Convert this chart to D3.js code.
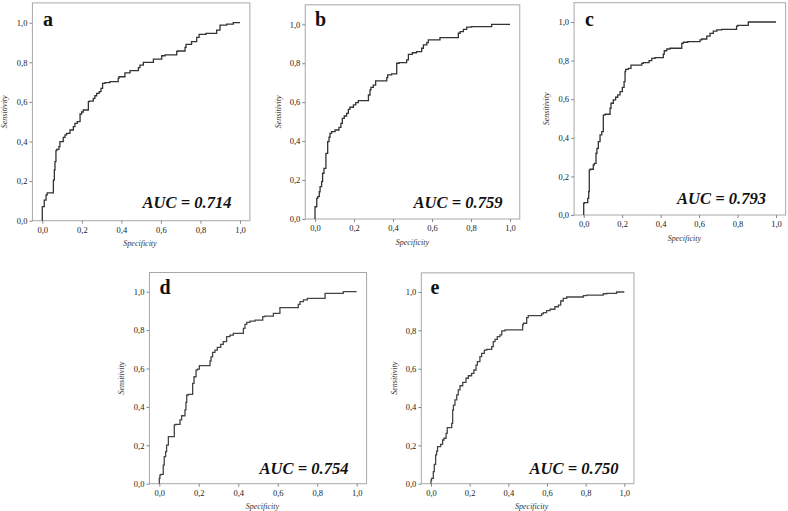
<!DOCTYPE html>
<html><head><meta charset="utf-8">
<script src="https://cdn.jsdelivr.net/npm/d3@7"></script>
<style>
html,body{margin:0;padding:0;background:#fff;}
svg{display:block;}
</style></head>
<body>
<svg id="chart" width="788" height="511"></svg>
<script>
const tickValues = [0, 0.2, 0.4, 0.6, 0.8, 1.0];
const tickLabels = ["0,0", "0,2", "0,4", "0,6", "0,8", "1,0"];
const panelLetters = ["a", "b", "c", "d", "e"];
const aucLabels = ["AUC = 0.714", "AUC = 0.759", "AUC = 0.793", "AUC = 0.754", "AUC = 0.750"];
const xTitle = "Specificity";
const yTitle = "Sensitivity";

const specA = [0,0,0.010,0.019,0.025,0.030,0.056,0.061,0.064,0.069,0.073,0.084,0.089,0.106,0.115,0.123,0.140,0.157,0.165,0.177,0.191,0.199,0.207,0.221,0.233,0.238,0.258,0.266,0.275,0.288,0.297,0.305,0.317,0.342,0.384,0.388,0.418,0.444,0.486,0.494,0.511,0.562,0.604,0.621,0.680,0.683,0.722,0.727,0.755,0.781,0.793,0.828,0.882,0.899,0.933,0.966,0.983,1.0];
const sensA = [0,0.040,0.071,0.104,0.130,0.141,0.141,0.205,0.256,0.298,0.354,0.360,0.374,0.399,0.421,0.433,0.441,0.458,0.475,0.492,0.500,0.539,0.549,0.559,0.559,0.601,0.604,0.618,0.631,0.643,0.652,0.668,0.694,0.697,0.702,0.719,0.727,0.747,0.758,0.773,0.786,0.800,0.816,0.833,0.837,0.854,0.857,0.875,0.891,0.904,0.926,0.941,0.946,0.963,0.988,0.993,1.0,1.0];

const specB = [0,0,0.009,0.014,0.022,0.026,0.034,0.039,0.046,0.056,0.065,0.072,0.077,0.085,0.103,0.123,0.133,0.140,0.150,0.162,0.171,0.179,0.197,0.209,0.222,0.236,0.274,0.282,0.287,0.299,0.311,0.321,0.368,0.373,0.393,0.419,0.431,0.470,0.479,0.499,0.521,0.547,0.556,0.573,0.581,0.602,0.641,0.650,0.735,0.744,0.761,0.778,0.803,0.821,0.906,0.909,1.0];
const sensB = [0,0.055,0.063,0.106,0.115,0.140,0.166,0.192,0.235,0.260,0.337,0.397,0.420,0.440,0.449,0.457,0.471,0.491,0.517,0.529,0.543,0.563,0.574,0.586,0.598,0.608,0.608,0.637,0.663,0.676,0.688,0.709,0.709,0.726,0.740,0.745,0.800,0.803,0.817,0.846,0.854,0.860,0.877,0.894,0.906,0.920,0.920,0.932,0.932,0.954,0.962,0.974,0.985,0.988,0.988,1.0,1.0];

const specC = [0,0,0.003,0.021,0.026,0.029,0.033,0.050,0.055,0.064,0.069,0.076,0.085,0.094,0.102,0.111,0.137,0.142,0.154,0.166,0.177,0.189,0.201,0.210,0.215,0.218,0.232,0.246,0.258,0.302,0.310,0.340,0.354,0.371,0.414,0.419,0.432,0.449,0.510,0.518,0.541,0.605,0.614,0.640,0.657,0.674,0.692,0.718,0.795,0.801,0.856,0.860,1.0];
const sensC = [0,0.040,0.060,0.064,0.086,0.121,0.233,0.237,0.259,0.268,0.320,0.345,0.380,0.415,0.432,0.518,0.522,0.553,0.579,0.596,0.610,0.622,0.639,0.661,0.691,0.743,0.755,0.760,0.777,0.777,0.786,0.789,0.800,0.812,0.815,0.834,0.851,0.860,0.864,0.889,0.895,0.898,0.907,0.912,0.927,0.941,0.953,0.959,0.962,0.979,0.983,1.0,1.0];

const specD = [0,0.003,0.008,0.020,0.025,0.032,0.037,0.046,0.054,0.076,0.083,0.105,0.113,0.118,0.130,0.135,0.139,0.147,0.169,0.176,0.186,0.193,0.203,0.211,0.257,0.262,0.270,0.282,0.294,0.311,0.324,0.341,0.358,0.375,0.392,0.426,0.434,0.443,0.459,0.485,0.524,0.535,0.578,0.586,0.611,0.620,0.704,0.713,0.730,0.750,0.764,0.840,0.848,0.932,0.941,1.0];
const sensD = [0,0.028,0.045,0.049,0.097,0.141,0.167,0.201,0.245,0.245,0.306,0.309,0.332,0.354,0.354,0.384,0.424,0.462,0.465,0.523,0.557,0.592,0.597,0.615,0.615,0.639,0.661,0.684,0.696,0.710,0.726,0.740,0.766,0.774,0.783,0.783,0.809,0.830,0.840,0.847,0.852,0.870,0.873,0.887,0.887,0.917,0.917,0.934,0.948,0.957,0.965,0.965,0.991,0.991,1.0,1.0];

const specE = [0,0.003,0.012,0.017,0.024,0.029,0.034,0.050,0.060,0.067,0.078,0.084,0.090,0.107,0.112,0.116,0.124,0.133,0.141,0.150,0.164,0.181,0.193,0.210,0.222,0.233,0.240,0.253,0.262,0.276,0.288,0.314,0.322,0.331,0.343,0.357,0.366,0.383,0.391,0.474,0.478,0.495,0.503,0.521,0.572,0.581,0.598,0.616,0.641,0.659,0.671,0.684,0.702,0.728,0.788,0.805,0.891,0.909,0.960,0.978,1.0];
const sensE = [0,0.019,0.028,0.063,0.101,0.150,0.170,0.193,0.205,0.228,0.237,0.263,0.292,0.292,0.315,0.384,0.410,0.437,0.463,0.489,0.511,0.529,0.550,0.563,0.576,0.593,0.619,0.637,0.663,0.680,0.697,0.701,0.715,0.741,0.753,0.767,0.776,0.797,0.802,0.802,0.828,0.837,0.866,0.877,0.877,0.886,0.892,0.903,0.910,0.923,0.932,0.953,0.967,0.974,0.974,0.981,0.984,0.991,0.993,1.0,1.0];

const specSeries = [specA, specB, specC, specD, specE];
const sensSeries = [sensA, sensB, sensC, sensD, sensE];

// layout (pixel positions of value 0 and 1 on each axis, text anchors)
const layout = [
  {x0:42.3, x1:240,   y0:220.7, y1:22.7,  sensX:4,     specX:140,   specY:246,   aucX:231.5, aucY:207.7, letX:43,    letY:26,    stroke:"#333"},
  {x0:315,  x1:510,   y0:219,   y1:24.3,  sensX:277.7, specX:412.3, specY:244.5, aucX:502.5, aucY:207.5, letX:315,   letY:26,    stroke:"#333"},
  {x0:583.7,x1:776,   y0:215,   y1:22,    sensX:545.7, specX:684.3, specY:240.5, aucX:766,   aucY:203.5, letX:585,   letY:26,    stroke:"#333"},
  {x0:159.3,x1:356.7, y0:483.7, y1:291.7, sensX:120.5, specX:262.3, specY:509,   aucX:348.5, aucY:473.5, letX:159.5, letY:293.5, stroke:"#444"},
  {x0:431,  x1:624.3, y0:483.7, y1:292,   sensX:394,   specX:531.7, specY:509,   aucX:618.5, aucY:474,   letX:430.5, letY:294,   stroke:"#444"}
];

const svg = d3.select("#chart");
const serif = "'Liberation Serif','Times New Roman',serif";

layout.forEach((L, i) => {
  const x = d3.scaleLinear().domain([0, 1]).range([L.x0, L.x1]);
  const y = d3.scaleLinear().domain([0, 1]).range([L.y0, L.y1]);
  const g = svg.append("g");

  const fx0 = x(-0.05), fx1 = x(1.05), fy0 = y(0), fy1 = y(1.1);
  g.append("rect")
    .attr("x", fx0).attr("y", fy1)
    .attr("width", fx1 - fx0).attr("height", fy0 - fy1)
    .attr("fill", "none").attr("stroke", "#a8a8a8").attr("stroke-width", 1);

  const ya = g.append("g").attr("transform", `translate(${fx0},0)`)
    .call(d3.axisLeft(y).tickValues(tickValues).tickSize(3).tickPadding(2)
      .tickFormat((d, k) => tickLabels[k]));
  const xa = g.append("g").attr("transform", `translate(0,${fy0})`)
    .call(d3.axisBottom(x).tickValues(tickValues).tickSize(3).tickPadding(3)
      .tickFormat((d, k) => tickLabels[k]));
  [ya, xa].forEach(a => {
    a.select(".domain").remove();
    a.selectAll(".tick line").attr("stroke", "#888");
    a.selectAll(".tick text").attr("fill", "#222")
      .style("font-family", serif).style("font-size", "8.5px");
  });

  const pts = specSeries[i].map((s, k) => [s, sensSeries[i][k]]);
  const line = d3.line().x(d => x(d[0])).y(d => y(d[1])).curve(d3.curveStepBefore);
  g.append("path").datum(pts)
    .attr("d", line)
    .attr("fill", "none").attr("stroke", L.stroke).attr("stroke-width", 1.3);

  g.append("text").attr("x", L.letX).attr("y", L.letY)
    .text(panelLetters[i])
    .style("font-family", serif).style("font-weight", "bold").style("font-size", "20px")
    .attr("fill", "#111");

  g.append("text").attr("x", L.aucX).attr("y", L.aucY)
    .attr("text-anchor", "end")
    .attr("textLength", 89).attr("lengthAdjust", "spacingAndGlyphs")
    .text(aucLabels[i])
    .style("font-family", serif).style("font-weight", "bold").style("font-style", "italic")
    .style("font-size", "17.5px").attr("fill", "#111");

  g.append("text").attr("x", L.specX).attr("y", L.specY)
    .attr("text-anchor", "middle").text(xTitle)
    .style("font-family", serif).style("font-style", "italic").style("font-size", "8px")
    .attr("fill", "#333");
  const cy = (fy0 + fy1) / 2;
  g.append("text")
    .attr("transform", `translate(${L.sensX + 3},${cy}) rotate(-90)`)
    .attr("text-anchor", "middle").text(yTitle)
    .style("font-family", serif).style("font-style", "italic").style("font-size", "8px")
    .attr("fill", "#333");
});
</script>
</body></html>
